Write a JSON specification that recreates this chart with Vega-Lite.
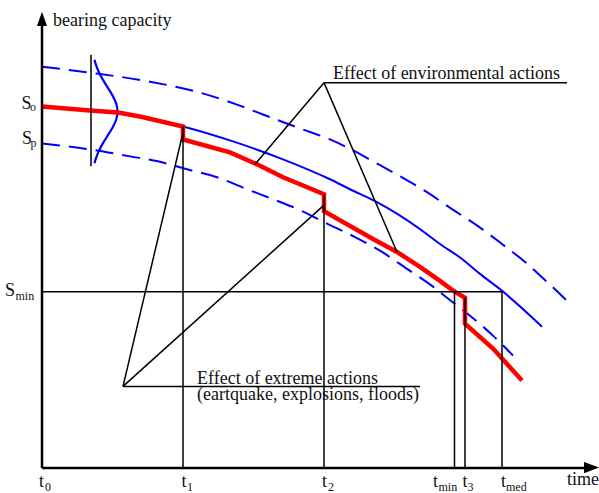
{
  "$schema": "https://vega.github.io/schema/vega-lite/v6.json",
  "width": 599,
  "height": 493,
  "autosize": {"type": "fit", "contains": "padding"},
  "padding": 0,
  "background": "white",
  "config": {"view": {"stroke": null}},
  "datasets": {
    "lines": [
      {"series": "upper", "i": 0, "t": 0, "s": 403},
      {"series": "upper", "i": 1, "t": 48, "s": 397},
      {"series": "upper", "i": 2, "t": 108, "s": 388},
      {"series": "upper", "i": 3, "t": 158, "s": 377},
      {"series": "upper", "i": 4, "t": 195, "s": 365},
      {"series": "upper", "i": 5, "t": 221, "s": 355},
      {"series": "upper", "i": 6, "t": 258, "s": 341},
      {"series": "upper", "i": 7, "t": 288, "s": 330},
      {"series": "upper", "i": 8, "t": 311, "s": 319},
      {"series": "upper", "i": 9, "t": 331, "s": 308},
      {"series": "upper", "i": 10, "t": 358, "s": 293},
      {"series": "upper", "i": 11, "t": 385, "s": 277},
      {"series": "upper", "i": 12, "t": 410, "s": 260},
      {"series": "upper", "i": 13, "t": 436, "s": 243},
      {"series": "upper", "i": 14, "t": 460, "s": 225},
      {"series": "upper", "i": 15, "t": 483, "s": 207},
      {"series": "upper", "i": 16, "t": 505, "s": 187},
      {"series": "upper", "i": 17, "t": 525, "s": 168},
      {"series": "median", "i": 0, "t": 0, "s": 363},
      {"series": "median", "i": 1, "t": 48, "s": 359},
      {"series": "median", "i": 2, "t": 98, "s": 353},
      {"series": "median", "i": 3, "t": 141, "s": 343},
      {"series": "median", "i": 4, "t": 191, "s": 328},
      {"series": "median", "i": 5, "t": 241, "s": 310},
      {"series": "median", "i": 6, "t": 288, "s": 290},
      {"series": "median", "i": 7, "t": 308, "s": 280},
      {"series": "median", "i": 8, "t": 335, "s": 267},
      {"series": "median", "i": 9, "t": 378, "s": 240},
      {"series": "median", "i": 10, "t": 398, "s": 225},
      {"series": "median", "i": 11, "t": 420, "s": 210},
      {"series": "median", "i": 12, "t": 438, "s": 195},
      {"series": "median", "i": 13, "t": 460, "s": 178},
      {"series": "median", "i": 14, "t": 500, "s": 142},
      {"series": "lower", "i": 0, "t": 0, "s": 326},
      {"series": "lower", "i": 1, "t": 48, "s": 320},
      {"series": "lower", "i": 2, "t": 88, "s": 313},
      {"series": "lower", "i": 3, "t": 116, "s": 308},
      {"series": "lower", "i": 4, "t": 145, "s": 300},
      {"series": "lower", "i": 5, "t": 175, "s": 292},
      {"series": "lower", "i": 6, "t": 205, "s": 280},
      {"series": "lower", "i": 7, "t": 231, "s": 270},
      {"series": "lower", "i": 8, "t": 258, "s": 259},
      {"series": "lower", "i": 9, "t": 286, "s": 245},
      {"series": "lower", "i": 10, "t": 313, "s": 232},
      {"series": "lower", "i": 11, "t": 340, "s": 217},
      {"series": "lower", "i": 12, "t": 365, "s": 200},
      {"series": "lower", "i": 13, "t": 390, "s": 183},
      {"series": "lower", "i": 14, "t": 405, "s": 171},
      {"series": "lower", "i": 15, "t": 428, "s": 153},
      {"series": "lower", "i": 16, "t": 451, "s": 133},
      {"series": "lower", "i": 17, "t": 471, "s": 113},
      {"series": "bell", "i": 0, "t": 52.5, "s": 410},
      {"series": "bell", "i": 1, "t": 53.5, "s": 406},
      {"series": "bell", "i": 2, "t": 56.5, "s": 398},
      {"series": "bell", "i": 3, "t": 60.7, "s": 390},
      {"series": "bell", "i": 4, "t": 65.8, "s": 382},
      {"series": "bell", "i": 5, "t": 70.8, "s": 374},
      {"series": "bell", "i": 6, "t": 74.6, "s": 366},
      {"series": "bell", "i": 7, "t": 76, "s": 358},
      {"series": "bell", "i": 8, "t": 74.6, "s": 350},
      {"series": "bell", "i": 9, "t": 70.8, "s": 342},
      {"series": "bell", "i": 10, "t": 65.8, "s": 334},
      {"series": "bell", "i": 11, "t": 60.7, "s": 326},
      {"series": "bell", "i": 12, "t": 56.5, "s": 318},
      {"series": "bell", "i": 13, "t": 53.5, "s": 310},
      {"series": "bell", "i": 14, "t": 52.5, "s": 306},
      {"series": "actual", "i": 0, "t": 0, "s": 363},
      {"series": "actual", "i": 1, "t": 48, "s": 359},
      {"series": "actual", "i": 2, "t": 76, "s": 357},
      {"series": "actual", "i": 3, "t": 98, "s": 353},
      {"series": "actual", "i": 4, "t": 141, "s": 343},
      {"series": "actual", "i": 5, "t": 141, "s": 330},
      {"series": "actual", "i": 6, "t": 188, "s": 317},
      {"series": "actual", "i": 7, "t": 215, "s": 305},
      {"series": "actual", "i": 8, "t": 241, "s": 292},
      {"series": "actual", "i": 9, "t": 282, "s": 275},
      {"series": "actual", "i": 10, "t": 282, "s": 258},
      {"series": "actual", "i": 11, "t": 331, "s": 230},
      {"series": "actual", "i": 12, "t": 355, "s": 217},
      {"series": "actual", "i": 13, "t": 378, "s": 202},
      {"series": "actual", "i": 14, "t": 398, "s": 188},
      {"series": "actual", "i": 15, "t": 410, "s": 179},
      {"series": "actual", "i": 16, "t": 423, "s": 171},
      {"series": "actual", "i": 17, "t": 423, "s": 145},
      {"series": "actual", "i": 18, "t": 451, "s": 120},
      {"series": "actual", "i": 19, "t": 460, "s": 110},
      {"series": "actual", "i": 20, "t": 480, "s": 88}
    ],
    "segs": [
      {"kind": "thin", "t": 49, "s": 415, "t2": 49, "s2": 303},
      {"kind": "thin", "t": 0, "s": 177, "t2": 460, "s2": 177},
      {"kind": "thin", "t": 141, "s": 343, "t2": 141, "s2": 0},
      {"kind": "thin", "t": 282, "s": 275, "t2": 282, "s2": 0},
      {"kind": "thin", "t": 412.5, "s": 177, "t2": 412.5, "s2": 0},
      {"kind": "thin", "t": 423, "s": 171, "t2": 423, "s2": 0},
      {"kind": "thin", "t": 460, "s": 177, "t2": 460, "s2": 0},
      {"kind": "thin", "t": 81, "s": 82, "t2": 141, "s2": 337},
      {"kind": "thin", "t": 81, "s": 82, "t2": 282, "s2": 264},
      {"kind": "thin", "t": 81, "s": 82, "t2": 378, "s2": 82},
      {"kind": "thin", "t": 282, "s": 387, "t2": 525, "s2": 387},
      {"kind": "thin", "t": 282, "s": 387, "t2": 213, "s2": 305},
      {"kind": "thin", "t": 282, "s": 387, "t2": 355, "s2": 217},
      {"kind": "axis", "t": 0, "s": 0, "t2": 0, "s2": 448},
      {"kind": "axis", "t": 0, "s": 0, "t2": 544, "s2": 0}
    ],
    "arrows": [
      {"dir": "up", "t": 0, "s": 451},
      {"dir": "right", "t": 549.5, "s": 0.5}
    ],
    "labels": [
      {"text": "bearing capacity", "t": 11, "s": 444},
      {"text": "Effect of environmental actions", "t": 291, "s": 391},
      {"text": "Effect of extreme actions", "t": 155, "s": 84},
      {"text": "(eartquake, explosions, floods)", "t": 155, "s": 68},
      {"text": "time", "t": 525, "s": -17},
      {"text": "S", "t": -20.5, "s": 361},
      {"text": "S", "t": -20, "s": 325},
      {"text": "S", "t": -37, "s": 173},
      {"text": "t", "t": -3, "s": -19},
      {"text": "t", "t": 139.5, "s": -19},
      {"text": "t", "t": 280, "s": -19},
      {"text": "t", "t": 391, "s": -19},
      {"text": "t", "t": 420.5, "s": -19},
      {"text": "t", "t": 459, "s": -19}
    ],
    "subs": [
      {"text": "o", "t": -12, "s": 359},
      {"text": "p", "t": -11.5, "s": 322},
      {"text": "min", "t": -26.5, "s": 169},
      {"text": "0", "t": 3, "s": -22.5},
      {"text": "1", "t": 145, "s": -22.5},
      {"text": "2", "t": 286, "s": -22.5},
      {"text": "min", "t": 396.5, "s": -22.5},
      {"text": "3", "t": 425.5, "s": -22.5},
      {"text": "med", "t": 464, "s": -22.5}
    ]
  },
  "encoding": {
    "x": {"field": "t", "type": "quantitative", "scale": {"domain": [-42, 557], "nice": false, "zero": false}, "axis": null},
    "y": {"field": "s", "type": "quantitative", "scale": {"domain": [-23, 470], "nice": false, "zero": false}, "axis": null}
  },
  "layer": [
    {
      "data": {"name": "lines"},
      "transform": [{"filter": "datum.series === 'upper' || datum.series === 'lower'"}],
      "mark": {"type": "line", "color": "#0000ff", "strokeWidth": 2, "strokeDash": [18, 9], "interpolate": "monotone"},
      "encoding": {"detail": {"field": "series"}, "order": {"field": "i"}}
    },
    {
      "data": {"name": "lines"},
      "transform": [{"filter": "datum.series === 'median'"}],
      "mark": {"type": "line", "color": "#0000ff", "strokeWidth": 2, "interpolate": "monotone"},
      "encoding": {"order": {"field": "i"}}
    },
    {
      "data": {"name": "lines"},
      "transform": [{"filter": "datum.series === 'bell'"}],
      "mark": {"type": "line", "color": "#0000ff", "strokeWidth": 2.2, "interpolate": "basis"},
      "encoding": {"order": {"field": "i"}}
    },
    {
      "data": {"name": "lines"},
      "transform": [{"filter": "datum.series === 'actual'"}],
      "mark": {"type": "line", "color": "#ff0000", "strokeWidth": 4.5, "strokeJoin": "miter"},
      "encoding": {"order": {"field": "i"}}
    },
    {
      "data": {"name": "segs"},
      "transform": [{"filter": "datum.kind === 'thin'"}],
      "mark": {"type": "rule", "color": "#000000", "strokeWidth": 1.5},
      "encoding": {"x2": {"field": "t2"}, "y2": {"field": "s2"}}
    },
    {
      "data": {"name": "segs"},
      "transform": [{"filter": "datum.kind === 'axis'"}],
      "mark": {"type": "rule", "color": "#000000", "strokeWidth": 2.5},
      "encoding": {"x2": {"field": "t2"}, "y2": {"field": "s2"}}
    },
    {
      "data": {"name": "arrows"},
      "transform": [{"filter": "datum.dir === 'up'"}],
      "mark": {"type": "point", "shape": "M0,-1L-0.7,1L0.7,1Z", "size": 205, "filled": true, "color": "#000000", "opacity": 1, "strokeWidth": 0}
    },
    {
      "data": {"name": "arrows"},
      "transform": [{"filter": "datum.dir === 'right'"}],
      "mark": {"type": "point", "shape": "M1,0L-1,-0.75L-1,0.75Z", "size": 225, "filled": true, "color": "#000000", "opacity": 1, "strokeWidth": 0}
    },
    {
      "data": {"name": "labels"},
      "mark": {"type": "text", "align": "left", "baseline": "alphabetic", "font": "Liberation Serif, Times New Roman, serif", "fontSize": 18, "color": "#111111"},
      "encoding": {"text": {"field": "text"}}
    },
    {
      "data": {"name": "subs"},
      "mark": {"type": "text", "align": "left", "baseline": "alphabetic", "font": "Liberation Serif, Times New Roman, serif", "fontSize": 12, "color": "#111111"},
      "encoding": {"text": {"field": "text"}}
    }
  ]
}
